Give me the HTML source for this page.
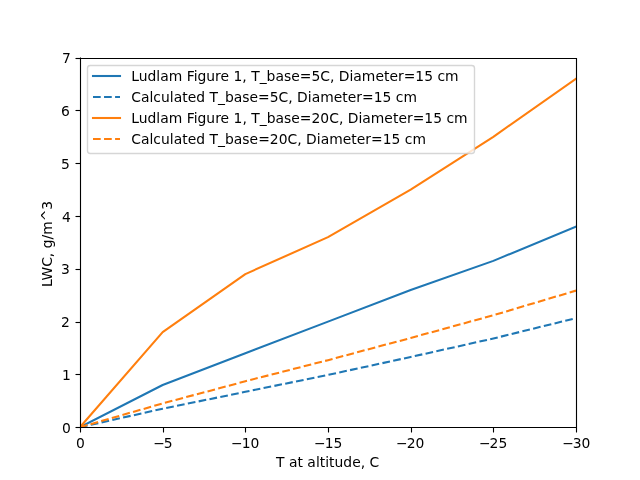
<!DOCTYPE html>
<html lang="en"><head><meta charset="utf-8"><title>LWC vs T at altitude</title>
<style>html,body{margin:0;padding:0;background:#fff}body{width:640px;height:480px;overflow:hidden}svg{display:block}text{font-family:"DejaVu Sans","Liberation Sans",sans-serif;font-size:13.889px;fill:#000}</style></head><body>
<svg width="640" height="480" viewBox="0 0 640 480">
<rect width="640" height="480" fill="#fff"/>
<clipPath id="ax"><rect x="80" y="57.6" width="496" height="369.6"/></clipPath>
<g clip-path="url(#ax)" fill="none" stroke-width="2.083" stroke-linejoin="round">
<polyline points="80.000,427.200 162.667,384.960 245.333,353.280 328.000,321.600 410.667,289.920 493.333,260.880 576.000,226.560" stroke="#1f77b4" stroke-linecap="square"/>
<polyline points="80.000,427.200 162.667,408.720 245.333,391.824 328.000,374.928 410.667,356.976 493.333,338.496 576.000,318.115" stroke="#1f77b4" stroke-dasharray="7.708 3.333"/>
<polyline points="80.000,427.200 162.667,332.160 245.333,274.080 328.000,237.120 410.667,189.600 493.333,136.800 576.000,78.720" stroke="#ff7f0e" stroke-linecap="square"/>
<polyline points="80.000,427.200 162.667,403.440 245.333,381.264 328.000,360.144 410.667,337.968 493.333,315.264 576.000,290.606" stroke="#ff7f0e" stroke-dasharray="7.708 3.333"/>
</g>
<g stroke="#000" stroke-width="1.111" fill="none">
<line x1="80.5" y1="427.5" x2="80.5" y2="432.5"/>
<line x1="163.5" y1="427.5" x2="163.5" y2="432.5"/>
<line x1="245.5" y1="427.5" x2="245.5" y2="432.5"/>
<line x1="328.5" y1="427.5" x2="328.5" y2="432.5"/>
<line x1="411.5" y1="427.5" x2="411.5" y2="432.5"/>
<line x1="493.5" y1="427.5" x2="493.5" y2="432.5"/>
<line x1="576.5" y1="427.5" x2="576.5" y2="432.5"/>
<line x1="75.5" y1="427.5" x2="80.5" y2="427.5"/>
<line x1="75.5" y1="374.5" x2="80.5" y2="374.5"/>
<line x1="75.5" y1="322.5" x2="80.5" y2="322.5"/>
<line x1="75.5" y1="269.5" x2="80.5" y2="269.5"/>
<line x1="75.5" y1="216.5" x2="80.5" y2="216.5"/>
<line x1="75.5" y1="163.5" x2="80.5" y2="163.5"/>
<line x1="75.5" y1="110.5" x2="80.5" y2="110.5"/>
<line x1="75.5" y1="58.5" x2="80.5" y2="58.5"/>
<path d="M80.5 57.6 V428 M576.5 58 V428 M80 427.5 H577 M80 58.5 H577" stroke-linecap="butt"/>
</g>
<text x="80.44" y="448.40" text-anchor="middle">0</text>
<text x="162.92" y="448.40" text-anchor="middle">−<tspan dx="-1">5</tspan></text>
<text x="245.24" y="448.40" text-anchor="middle">−<tspan dx="-1">10</tspan></text>
<text x="328.23" y="448.40" text-anchor="middle">−<tspan dx="-1">15</tspan></text>
<text x="410.22" y="448.40" text-anchor="middle">−<tspan dx="-1">20</tspan></text>
<text x="493.10" y="448.40" text-anchor="middle">−<tspan dx="-1">25</tspan></text>
<text x="576.31" y="448.40" text-anchor="middle">−<tspan dx="-1">30</tspan></text>
<text x="70.72" y="433.48" text-anchor="end">0</text>
<text x="70.87" y="379.68" text-anchor="end">1</text>
<text x="69.74" y="326.88" text-anchor="end">2</text>
<text x="69.86" y="274.08" text-anchor="end">3</text>
<text x="70.78" y="222.28" text-anchor="end">4</text>
<text x="69.76" y="169.48" text-anchor="end">5</text>
<text x="69.77" y="115.68" text-anchor="end">6</text>
<text x="70.82" y="62.88" text-anchor="end">7</text>
<text x="327.66" y="467.4" text-anchor="middle" textLength="103.25">T at altitude, C</text>
<text transform="translate(52 243.96) rotate(-90)" text-anchor="middle">LWC, g/m^3</text>
<rect x="87.5" y="65.5" width="387.0" height="88" rx="2.78" fill="#fff" fill-opacity="0.8" stroke="#ccc" stroke-opacity="0.8" stroke-width="1.389"/>
<g fill="none" stroke-width="2.083">
<line x1="91.96" y1="76" x2="121.04" y2="76" stroke="#1f77b4"/>
<line x1="93" y1="97" x2="120" y2="97" stroke="#1f77b4" stroke-dasharray="7.708 3.333"/>
<line x1="91.96" y1="118" x2="121.04" y2="118" stroke="#ff7f0e"/>
<line x1="93" y1="139" x2="120" y2="139" stroke="#ff7f0e" stroke-dasharray="7.708 3.333"/>
</g>
<text x="131.2" y="80.65" textLength="327.36">Ludlam Figure 1, T_base=5C, Diameter=15 cm</text>
<text x="131.2" y="102.43" textLength="285.79">Calculated T_base=5C, Diameter=15 cm</text>
<text x="131.2" y="123.20" textLength="336.39">Ludlam Figure 1, T_base=20C, Diameter=15 cm</text>
<text x="131.2" y="143.97" textLength="294.82">Calculated T_base=20C, Diameter=15 cm</text>
</svg></body></html>
